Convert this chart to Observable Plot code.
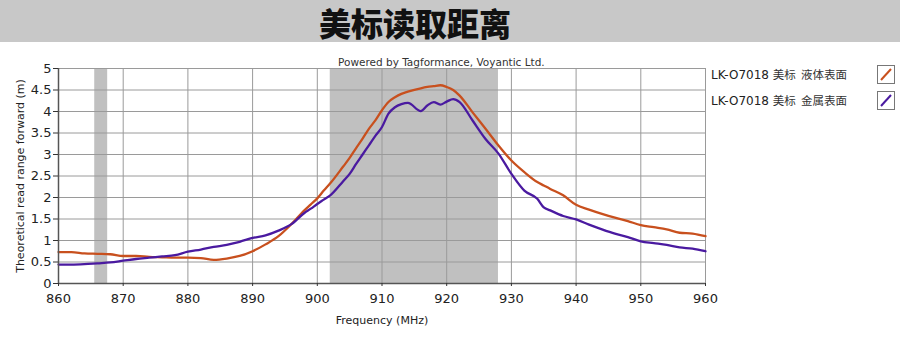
<!DOCTYPE html>
<html><head><meta charset="utf-8">
<script src="https://cdn.jsdelivr.net/npm/d3@7"></script>
<script src="https://cdn.jsdelivr.net/npm/@observablehq/plot@0.6"></script>
<style>
body{margin:0;background:#fff;width:900px;height:355px;position:relative;overflow:hidden;font-family:"DejaVu Sans",sans-serif;}
#title{position:absolute;left:0;top:0;width:900px;height:42px;background:#c8c8c8;text-align:center;}
#title span{position:absolute;left:415px;top:0px;transform:translateX(-50%);font-family:"Noto Sans CJK SC";font-weight:900;font-size:32px;color:#111;line-height:44px;white-space:nowrap;}
#chart{position:absolute;left:0;top:42px;}
#powered{position:absolute;left:338px;top:56px;font-size:10.5px;color:#333;white-space:nowrap;}
.leg{position:absolute;left:711px;font-size:12px;color:#222;white-space:nowrap;font-family:"DejaVu Sans",sans-serif;}
.leg .cn{font-family:"Noto Sans CJK SC";color:#333;font-size:11.5px;}
.box{position:absolute;left:877px;width:16px;height:17px;border:1px solid #777;background:#fff;}
</style></head><body>
<div id="title"><span>美标读取距离</span></div>
<div id="chart"></div>
<div id="powered">Powered by Tagformance, Voyantic Ltd.</div>
<div class="leg" style="top:66px">LK-O7018 <span class="cn">美标 &nbsp;液体表面</span></div>
<div class="leg" style="top:92px">LK-O7018 <span class="cn">美标 &nbsp;金属表面</span></div>
<div class="box" style="top:65px"><svg width="16" height="17"><line x1="3" y1="14" x2="13" y2="3" stroke="#c8501e" stroke-width="2"/></svg></div>
<div class="box" style="top:91px"><svg width="16" height="17"><line x1="3" y1="14" x2="13" y2="3" stroke="#4a1aa0" stroke-width="2"/></svg></div>
<script>
const seriesNames = ["LK-O7018 美标 液体表面", "LK-O7018 美标 金属表面"];
const freq   = [860,862,864,866,868,870,872,874,876,878,880,882,884,886,888,890,892,894,896,898,899,900,901,902,904,905,906,907,908,909,910,911,912,913,914,916,917,918,919,920,921,922,924,926,928,930,932,934,935,936,938,940,942,944,946,948,950,952,954,956,958,960];
const liquid = [0.73,0.73,0.70,0.69,0.68,0.64,0.64,0.62,0.61,0.60,0.60,0.59,0.55,0.58,0.64,0.75,0.91,1.10,1.38,1.70,1.84,1.98,2.16,2.33,2.72,2.92,3.15,3.37,3.60,3.80,4.03,4.22,4.33,4.41,4.46,4.54,4.57,4.59,4.61,4.57,4.50,4.37,3.98,3.60,3.21,2.86,2.59,2.36,2.28,2.20,2.05,1.83,1.72,1.62,1.53,1.45,1.36,1.31,1.26,1.18,1.16,1.10];
const metal  = [0.44,0.44,0.45,0.47,0.49,0.53,0.57,0.60,0.63,0.66,0.74,0.79,0.85,0.90,0.97,1.06,1.12,1.23,1.38,1.64,1.74,1.85,1.95,2.05,2.38,2.55,2.78,3.00,3.22,3.44,3.64,3.95,4.10,4.17,4.20,4.01,4.14,4.22,4.16,4.23,4.29,4.22,3.79,3.36,3.02,2.55,2.16,1.97,1.77,1.70,1.57,1.49,1.37,1.26,1.16,1.08,0.98,0.94,0.90,0.84,0.81,0.75];
const bandStart = [865.6, 902];
const bandEnd   = [867.6, 928];
const xTicks = [860,870,880,890,900,910,920,930,940,950,960];
const yTicks = [0,0.5,1,1.5,2,2.5,3,3.5,4,4.5,5];
const colors = ["#c8501e", "#4a1aa0"];

const rows = [];
freq.forEach((f,i)=>{ rows.push({f, v: liquid[i], s: seriesNames[0]}); rows.push({f, v: metal[i], s: seriesNames[1]}); });
const bands = bandStart.map((b,i)=>({x1:b, x2:bandEnd[i]}));

const plot = Plot.plot({
  width: 900, height: 313,
  marginLeft: 58, marginRight: 195, marginTop: 26, marginBottom: 72,
  style: {fontFamily: "DejaVu Sans, sans-serif", fontSize: "12px", color: "#222", background: "transparent"},
  x: {domain: [860, 960]},
  y: {domain: [0, 5]},
  color: {domain: seriesNames, range: colors},
  marks: [
    Plot.rect(bands, {x1: "x1", x2: "x2", y1: 0, y2: 5, fill: "#c0c0c0"}),
    Plot.gridX(xTicks, {stroke: "#9a9a9a", strokeOpacity: 1, strokeWidth: 1}),
    Plot.gridY(yTicks, {stroke: "#9a9a9a", strokeOpacity: 1, strokeWidth: 1}),
    Plot.line(rows, {x: "f", y: "v", z: "s", stroke: "s", strokeWidth: 2.3, curve: "monotone-x"}),
    Plot.ruleX([860], {stroke: "#555", strokeWidth: 1.5}),
    Plot.ruleY([0], {stroke: "#555", strokeWidth: 1.5}),
    Plot.axisY(yTicks, {tickSize: 5, tickPadding: 2, tickFormat: d => String(d), fontSize: 13, stroke: "#333",
      label: "Theoretical read range forward (m)", labelAnchor: "center", labelArrow: "none", labelOffset: 42}),
    Plot.axisX(xTicks, {tickSize: 3, tickPadding: 7, tickFormat: d => String(d), fontSize: 13, stroke: "#333",
      label: "Frequency (MHz)", labelAnchor: "center", labelArrow: "none", labelOffset: 40})
  ]
});
document.getElementById("chart").appendChild(plot);
plot.querySelectorAll("[aria-label='y-axis label'] text, [aria-label='x-axis label'] text").forEach(t => t.style.fontSize = "11px");
</script>
</body></html>
